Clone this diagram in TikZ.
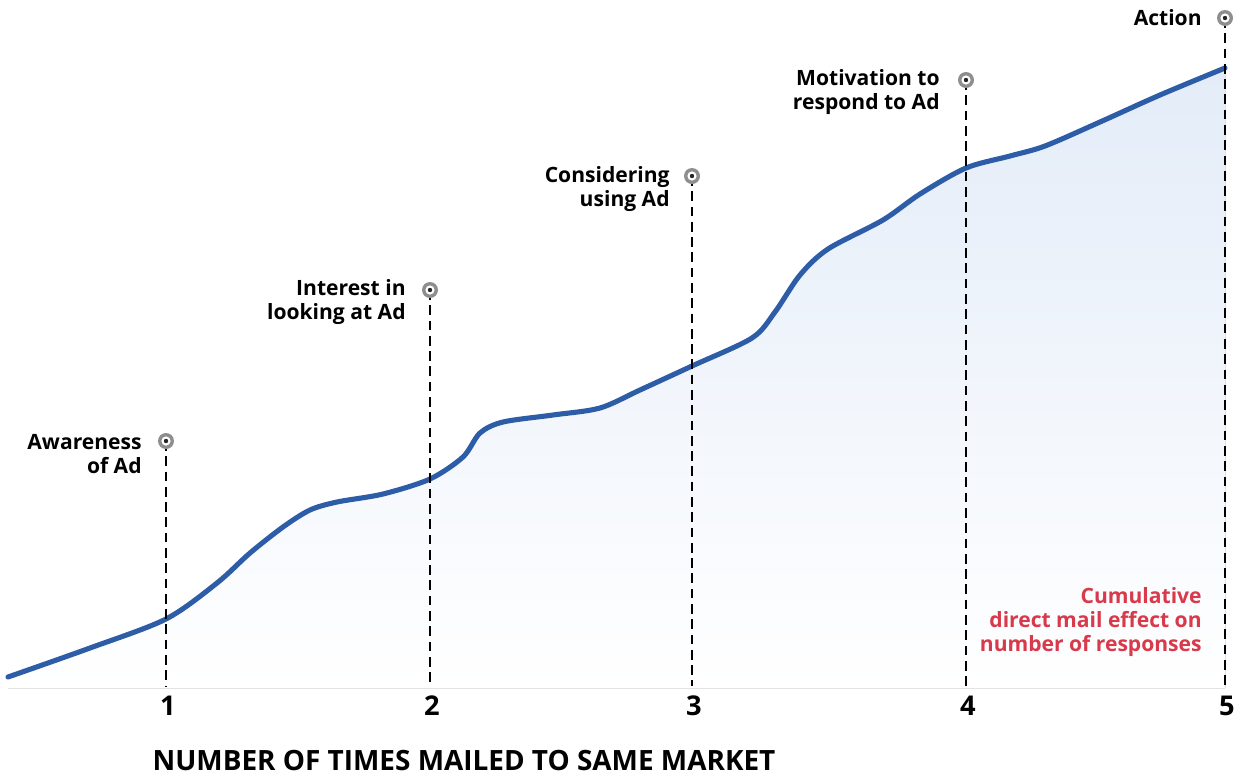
\documentclass[tikz,border=0pt]{standalone}
\usepackage{fontspec}
\setmainfont{Open Sans}
\usepackage{xcolor}

\definecolor{curveblue}{HTML}{2E5DA8}
\definecolor{fillblue}{HTML}{E3ECF8}
\definecolor{notered}{HTML}{D93A4B}
\definecolor{ringgray}{HTML}{8E8E8E}

\begin{document}
\begin{tikzpicture}[x=0.02cm,y=-0.02cm,
    stage/.style={font=\bfseries\fontsize{12}{13.6}\selectfont,align=right,anchor=east,inner sep=0pt},
    count/.style={font=\bfseries\fontsize{15.5}{18}\selectfont,inner sep=0pt},
    guide/.style={black,line width=1.5pt,dash pattern=on 5.5pt off 3.2pt}]
  \useasboundingbox (0,0) rectangle (1249,775);

  % area under the curve and the curve itself
  \fill[top color=fillblue,bottom color=white,shading angle=0]
    plot[smooth,tension=0.5] coordinates {(8,677) (90,648) (166,619)
      (217,583) (250,553) (283,527) (310,510) (337,502) (383,494) (430,479) (463,457)
      (480,433) (503,422) (553,415) (600,408) (640,390) (692,366) (752,338) (775,312)
      (800,275) (828,249) (883,220) (920,194) (966,168) (1010,156) (1045,146)
      (1100,122) (1160,95) (1225,68)}
    -- (1225,688) -- (8,688) -- cycle;
  \draw[curveblue,line width=2.9pt,line cap=round]
    plot[smooth,tension=0.5] coordinates {(8,677) (90,648) (166,619)
      (217,583) (250,553) (283,527) (310,510) (337,502) (383,494) (430,479) (463,457)
      (480,433) (503,422) (553,415) (600,408) (640,390) (692,366) (752,338) (775,312)
      (800,275) (828,249) (883,220) (920,194) (966,168) (1010,156) (1045,146)
      (1100,122) (1160,95) (1225,68)};

  % stage markers, guides and counts
  \foreach \name/\x/\y/\n in {m1/166/441/1,m2/430/290/2,m3/692/176/3,m4/966/80/4,m5/1225/18/5}{
    \coordinate (\name-foot) at (\x,686);
    \draw[guide] (\x,\y) -- (\name-foot);
    \fill[ringgray] (\x,\y) circle [radius=8];
    \fill[white] (\x,\y) circle [radius=4.6];
    \fill[black!85] (\x,\y) circle [radius=2.2];
    \node[count] (\name-n) at (\x+2,706) {\n};
  }

  \node[stage] (aware) at (142,454) {Awareness\\of Ad};
  \node[stage] (interest) at (406,302) {Interest in\\looking at Ad};
  \node[stage] (consider) at (670,189) {Considering\\using Ad};
  \node[stage] (motive) at (940,92) {Motivation to\\respond to Ad};
  \node[stage] (act) at (1202,18) {Action};

  \node[stage,text=notered] (effect) at (1202,622)
    {Cumulative\\direct mail effect on\\number of responses};

  \node[font=\bfseries\fontsize{15.9}{18}\selectfont,inner sep=0pt] (axis) at (464,760)
    {NUMBER OF TIMES MAILED TO SAME MARKET};
\end{tikzpicture}
\end{document}
